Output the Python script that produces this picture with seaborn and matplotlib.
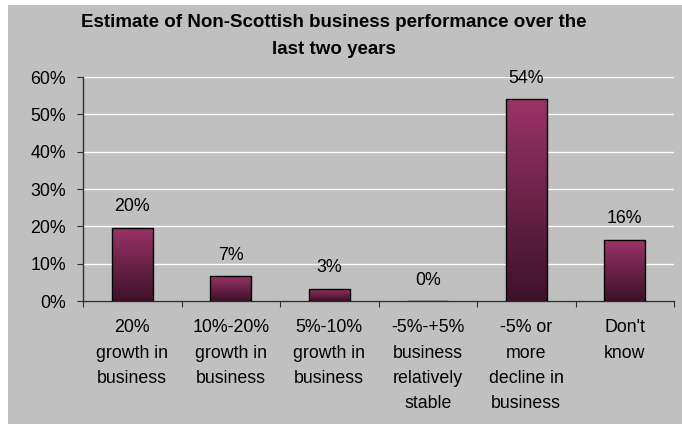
import numpy as np
import pandas as pd
import matplotlib
matplotlib.use("Agg")
import matplotlib.pyplot as plt
from matplotlib.colors import LinearSegmentedColormap
from matplotlib.patches import Rectangle
from matplotlib.ticker import FixedLocator, FuncFormatter
import seaborn as sns

# Survey responses (% of non-Scottish businesses)
categories = [
    "20%\ngrowth in\nbusiness",
    "10%-20%\ngrowth in\nbusiness",
    "5%-10%\ngrowth in\nbusiness",
    "-5%-+5%\nbusiness\nrelatively\nstable",
    "-5% or\nmore\ndecline in\nbusiness",
    "Don't\nknow",
]
shares = [19.6, 6.6, 3.3, 0.0, 54.1, 16.4]
y_ticks = [0, 10, 20, 30, 40, 50, 60]
title = "Estimate of Non-Scottish business performance over the\nlast two years"

df = pd.DataFrame({"category": categories, "share": shares})

sns.set_theme(style="white")
plt.rcParams["font.family"] = ["Liberation Sans", "DejaVu Sans"]

W, H = 682, 424
FS = 12.8
fig = plt.figure(figsize=(W / 100, H / 100), dpi=100, facecolor="white")

# grey chart area
bg = "#C0C0C0"
fig.patches.append(Rectangle((8 / W, 0), 1 - 8 / W, 1 - 5 / H,
                             transform=fig.transFigure, facecolor=bg,
                             edgecolor="none", zorder=-10))

ax = fig.add_axes([83 / W, 1 - 301 / H, (674 - 83) / W, (301 - 77) / H])
ax.set_facecolor(bg)

sns.barplot(data=df, x="category", y="share", ax=ax, width=0.42,
            color="#8A2B5C", edgecolor="black", linewidth=1.0, zorder=3)

# vertical gradient fill for each bar
cmap = LinearSegmentedColormap.from_list("bar", ["#3E1229", "#6A2347", "#9C3367"])
grad = np.linspace(0, 1, 256).reshape(-1, 1)
for bar in ax.patches:
    x0, y0 = bar.get_x(), bar.get_y()
    w, h = bar.get_width(), bar.get_height()
    if h <= 0:
        continue
    im = ax.imshow(grad, cmap=cmap, origin="lower", aspect="auto",
                   extent=(x0, x0 + w, y0, y0 + h), zorder=3.5)
    im.set_clip_path(bar)
    bar.set_facecolor("none")
    bar.set_zorder(4)
ax.set_xlim(-0.5, len(categories) - 0.5)
ax.set_ylim(0, 60)

# value labels
for i, v in enumerate(shares):
    ax.annotate(f"{v:.0f}%", (i, v), xytext=(0, 15), textcoords="offset points",
                ha="center", va="center", fontsize=FS, color="black", zorder=5)

# grid and axes
ax.set_yticks(y_ticks)
ax.yaxis.set_major_formatter(FuncFormatter(lambda v, p: f"{v:.0f}%"))
ax.grid(axis="y", color="white", linewidth=1.0, zorder=1)
ax.grid(axis="x", visible=False)
ax.set_axisbelow(True)

for s in ["top", "right"]:
    ax.spines[s].set_visible(False)
for s in ["left", "bottom"]:
    ax.spines[s].set_color("#303030")
    ax.spines[s].set_linewidth(1.0)

ax.tick_params(axis="y", which="major", direction="out", length=4.3, width=0.8,
               color="#303030", labelsize=FS, labelcolor="black", pad=8, left=True)
ax.tick_params(axis="x", which="major", length=0, labelsize=FS,
               labelcolor="black", pad=13)
ax.xaxis.set_minor_locator(FixedLocator(np.arange(-0.5, len(categories), 1.0)))
ax.tick_params(axis="x", which="minor", direction="out", length=4, width=0.8,
               color="#303030", bottom=True)
for lab in ax.get_xticklabels():
    lab.set_linespacing(1.65)
    lab.set_va("top")

ax.set_xlabel("")
ax.set_ylabel("")

fig.text(334 / W, 1 - 36 / H, title, ha="center", va="center", fontsize=13.5,
         fontweight="bold", color="black", linespacing=1.8)

fig.savefig("out.png", dpi=100, facecolor="white")
